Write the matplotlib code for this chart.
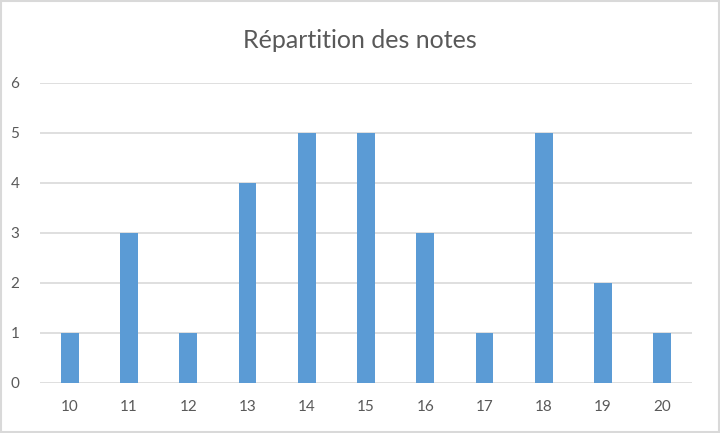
import matplotlib
matplotlib.use("Agg")
import matplotlib.pyplot as plt
from matplotlib.patches import Rectangle

categories = ["10", "11", "12", "13", "14", "15", "16", "17", "18", "19", "20"]
counts = [1, 3, 1, 4, 5, 5, 3, 1, 5, 2, 1]
yticks = [0, 1, 2, 3, 4, 5, 6]
title = "Répartition des notes"

plt.rcParams['font.family'] = ['Lato', 'DejaVu Sans']
text_color = "#595959"
grid_color = "#d9d9d9"
bar_color = "#5b9bd5"

fig = plt.figure(figsize=(7.2, 4.33), dpi=100)
ax = fig.add_axes([40/720, 1-383/433, 652/720, 300/433])

x = list(range(len(categories)))
ax.bar(x, counts, width=0.30, color=bar_color, zorder=3)
ax.set_xlim(-0.5, len(categories) - 0.5)
ax.set_ylim(0, 6)
ax.set_yticks(yticks)
ax.set_xticks(x)
ax.set_xticklabels(categories)
ax.yaxis.grid(True, color=grid_color, linewidth=1.2, zorder=0)
for s in ax.spines.values():
    s.set_visible(False)
ax.tick_params(axis='both', length=0, colors=text_color, labelsize=11)
ax.tick_params(axis='x', pad=12)
ax.tick_params(axis='y', pad=15)

fig.text(0.5, 1-40/433, title, ha='center', va='center', fontsize=18, color=text_color)

fig.patches.append(Rectangle((0.002, 0.003), 0.996, 0.994, transform=fig.transFigure,
                             fill=False, edgecolor=grid_color, linewidth=1.5))
fig.savefig("out.png", dpi=100)
